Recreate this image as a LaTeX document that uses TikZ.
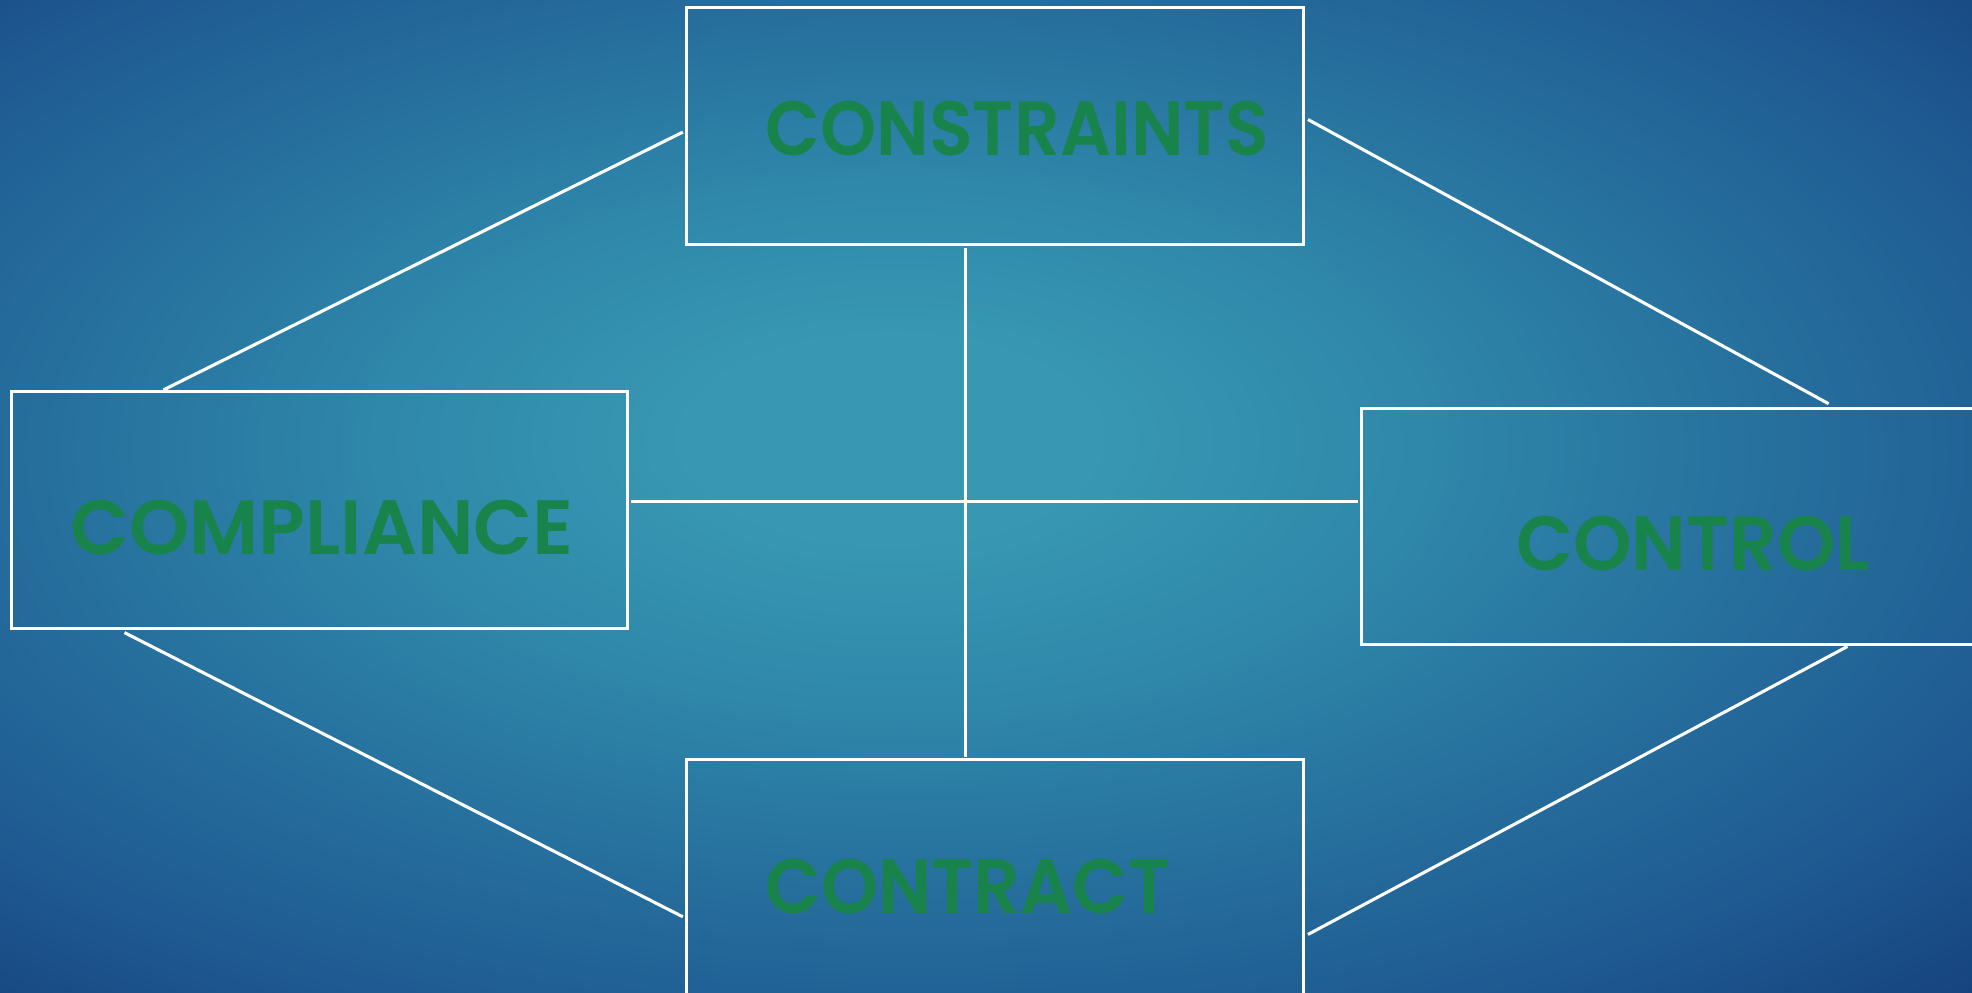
\documentclass[tikz,border=0pt]{standalone}
\usepackage{graphicx}
\usepackage{fontspec}
\newfontfamily\labelfont{Poppins}[UprightFont=* SemiBold, FakeStretch=0.93]
\usetikzlibrary{calc}

% background: light teal core fading out to deep navy
\definecolor{bgc0}{HTML}{3898B3}
\definecolor{bgc1}{HTML}{2F88AA}
\definecolor{bgc2}{HTML}{2A7AA3}
\definecolor{bgc3}{HTML}{246A9A}
\definecolor{bgc4}{HTML}{1E5890}
\definecolor{bgc5}{HTML}{184882}
\definecolor{bgc6}{HTML}{133D79}
\definecolor{labelgreen}{HTML}{18844B}
\pgfdeclareradialshading{slideglow}{\pgfpoint{-2.6bp}{3.1bp}}{%
  color(0bp)=(bgc0); color(5bp)=(bgc0); color(13bp)=(bgc1); color(18bp)=(bgc2);
  color(24bp)=(bgc3); color(31bp)=(bgc4); color(36bp)=(bgc5); color(40bp)=(bgc6);
  color(80bp)=(bgc6)}

\tikzset{
  box/.style={draw=white, line width=0.7pt, rectangle, inner sep=0pt,
              minimum width=4.9cm, minimum height=1.88cm},
  boxlabel/.style={text=labelgreen, font=\labelfont\fontsize{17.4}{19}\selectfont,
                   inner sep=0pt, anchor=base west},
  link/.style={draw=white, line width=0.7pt}
}

\begin{document}
\begin{tikzpicture}[x=0.01cm, y=-0.01cm]
  \useasboundingbox (0,0) rectangle (1568,789.5);
  \clip (0,0) rectangle (1568,789.5);
  \shade[shading=slideglow] (0,0) rectangle (1568,789.5);

  % the four boxes
  \node[box] (cons) at (791,100) {};
  \node[box] (comp) at (254,405.5) {};
  \node[box] (ctrl) at (1328,418.5) {};
  \node[box] (cont) at (791,698) {};

  % their labels
  \node[boxlabel] (consT) at (608,124) {CONSTRAINTS};
  \node[boxlabel] (compT) at (55,441) {\scalebox{1.075}[1]{COMPLIANCE}};
  \node[boxlabel] (ctrlT) at (1205,454) {\scalebox{1.04}[1]{CONTROL}};
  \node[boxlabel] (contT) at (608,726) {\scalebox{1.015}[1]{CONTRACT}};

  % free ends of the diagonal links
  \coordinate (consL) at (543,105);
  \coordinate (consR) at (1040,95);
  \coordinate (compU) at (130,310);
  \coordinate (compD) at (99,503);
  \coordinate (ctrlU) at (1454,321);
  \coordinate (ctrlD) at (1469,514);
  \coordinate (contL) at (543,729);
  \coordinate (contR) at (1040,743);
  \coordinate (vTop) at (768,197);
  \coordinate (vBot) at (768,602);
  \coordinate (hL) at (502,399);
  \coordinate (hR) at (1080,399);

  % cross in the middle
  \draw[link] (vTop) -- (vBot);
  \draw[link] (hL) -- (hR);

  % diagonal links between neighbouring boxes
  \draw[link] (consL) -- (compU);
  \draw[link] (consR) -- (ctrlU);
  \draw[link] (compD) -- (contL);
  \draw[link] (contR) -- (ctrlD);
\end{tikzpicture}
\end{document}
